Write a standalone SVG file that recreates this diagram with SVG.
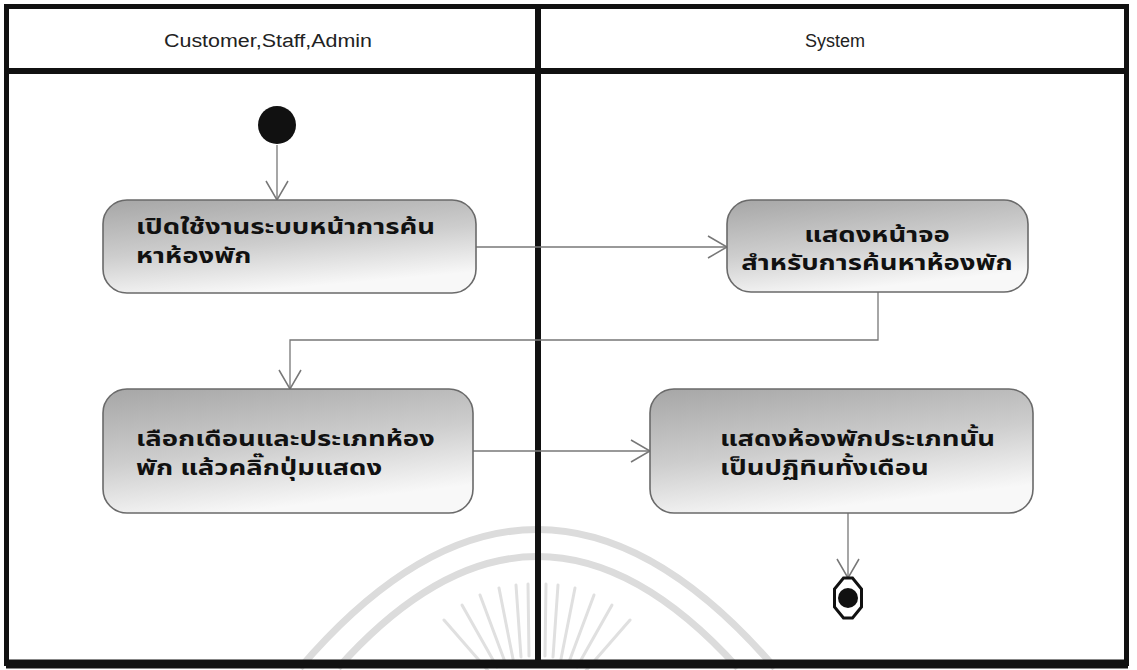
<svg xmlns="http://www.w3.org/2000/svg" width="1137" height="670" viewBox="0 0 1137 670">
<style>
.frame{fill:none;stroke:#111;stroke-width:5}
.thick{stroke:#111;stroke-width:6}
.hdr{font-family:"Liberation Sans",Arial,sans-serif;font-size:18px;fill:#222}
.node{fill:url(#g);stroke:#6a6a6a;stroke-width:1.6}
.lbl{font-family:"Noto Sans Thai","Noto Sans","DejaVu Sans",sans-serif;font-size:22px;font-weight:bold;fill:#111}
.edge{fill:none;stroke:#777;stroke-width:1.3}
.wm{fill:none;stroke:#dcdcdc;stroke-width:7}
.ray{stroke:#e0e0e0;stroke-width:3;stroke-linecap:round}
</style>
<defs>
<linearGradient id="g" x1="0" y1="0" x2="0.35" y2="1">
<stop offset="0" stop-color="#a6a6a6"/>
<stop offset="0.55" stop-color="#cdcdcd"/>
<stop offset="1" stop-color="#f8f8f8"/>
</linearGradient>
<marker id="arr" markerWidth="22" markerHeight="28" refX="20" refY="14" orient="auto" markerUnits="userSpaceOnUse">
<path d="M1,3 L20,14 L1,25" fill="none" stroke="#777" stroke-width="1.5"/>
</marker>
</defs>
<rect width="1137" height="670" fill="#fff"/>
<g id="watermark">
<path class="wm" d="M300,668 Q537,391 775,668"/>
<path class="wm" d="M338,668 Q537,445 738,668"/>
<line class="ray" x1="491" y1="674" x2="444" y2="620"/>
<line class="ray" x1="497" y1="667" x2="462" y2="605"/>
<line class="ray" x1="505" y1="662" x2="480" y2="595"/>
<line class="ray" x1="513" y1="659" x2="499" y2="588"/>
<line class="ray" x1="521" y1="657" x2="516" y2="585"/>
<line class="ray" x1="529" y1="656" x2="528" y2="584"/>
<line class="ray" x1="545" y1="656" x2="546" y2="584"/>
<line class="ray" x1="553" y1="657" x2="558" y2="585"/>
<line class="ray" x1="561" y1="659" x2="575" y2="588"/>
<line class="ray" x1="569" y1="662" x2="594" y2="595"/>
<line class="ray" x1="577" y1="667" x2="612" y2="605"/>
<line class="ray" x1="583" y1="674" x2="630" y2="620"/>
</g>
<g id="swimlanes">
<rect class="frame" x="6.5" y="6.5" width="1120" height="657"/>
<line class="thick" x1="6" y1="664" x2="1128" y2="664" style="stroke-width:9"/>
<line class="thick" x1="6" y1="71" x2="1127" y2="71"/>
<line class="thick" x1="538" y1="6" x2="538" y2="664"/>
<text class="hdr" x="268" y="47" text-anchor="middle" textLength="208" lengthAdjust="spacingAndGlyphs">Customer,Staff,Admin</text>
<text class="hdr" x="835" y="47" text-anchor="middle">System</text>
</g>
<g id="connectors">
<path class="edge" d="M277,145 L277,200" marker-end="url(#arr)"/>
<path class="edge" d="M476,247 L727,247" marker-end="url(#arr)"/>
<path class="edge" d="M878,292 L878,340 L290,340 L290,389" marker-end="url(#arr)"/>
<path class="edge" d="M473,451 L650,451" marker-end="url(#arr)"/>
<path class="edge" d="M848,513 L848,578" marker-end="url(#arr)"/>
</g>
<g id="start">
<circle cx="277" cy="125" r="19" fill="#111"/>
</g>
<g id="n1">
<rect class="node" x="103" y="200" width="373" height="93" rx="24"/>
<text class="lbl" transform="translate(136,234) scale(1.25,1)"><tspan x="0" y="0">เปิดใช้งานระบบหน้าการค้น</tspan><tspan x="0" y="29">หาห้องพัก</tspan></text>
</g>
<g id="n2">
<rect class="node" x="727" y="200" width="301" height="92" rx="24"/>
<text class="lbl" text-anchor="middle" transform="translate(877,242) scale(1.25,1)"><tspan x="0" y="0">แสดงหน้าจอ</tspan><tspan x="0" y="28">สำหรับการค้นหาห้องพัก</tspan></text>
</g>
<g id="n3">
<rect class="node" x="103" y="389" width="370" height="124" rx="24"/>
<text class="lbl" transform="translate(136,446) scale(1.25,1)"><tspan x="0" y="0">เลือกเดือนและประเภทห้อง</tspan><tspan x="0" y="29">พัก แล้วคลิ๊กปุ่มแสดง</tspan></text>
</g>
<g id="n4">
<rect class="node" x="650" y="389" width="383" height="124" rx="24"/>
<text class="lbl" transform="translate(720,446) scale(1.25,1)"><tspan x="0" y="0">แสดงห้องพักประเภทนั้น</tspan><tspan x="0" y="29">เป็นปฏิทินทั้งเดือน</tspan></text>
</g>
<g id="end">
<polygon points="834.5,589 834.5,607 843.5,618 852.5,618 861.5,607 861.5,589 852.5,578 843.5,578" fill="#fff" stroke="#111" stroke-width="3"/>
<circle cx="848" cy="598" r="10" fill="#111"/>
</g>
</svg>
